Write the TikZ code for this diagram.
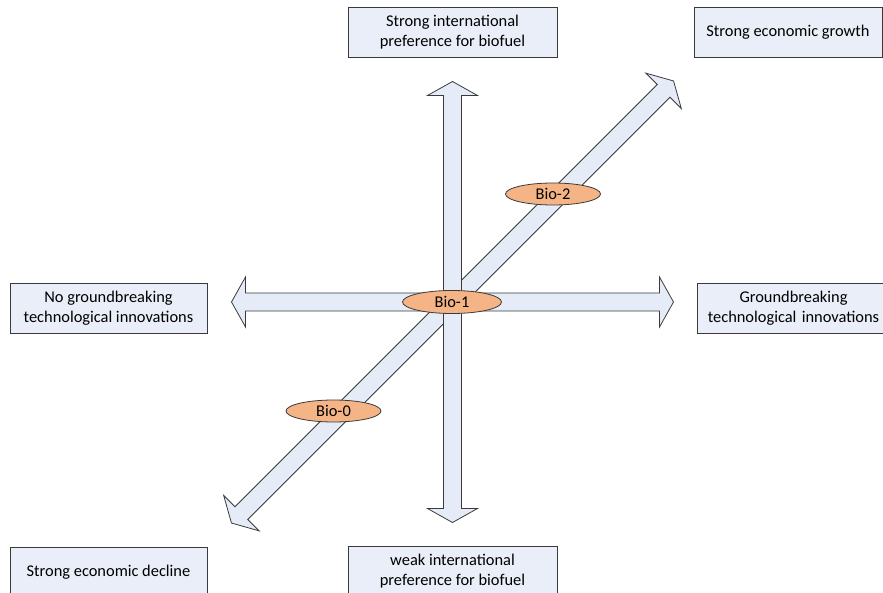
\documentclass[tikz,border=0pt]{standalone}
\usepackage{fontspec}
\setmainfont{Carlito}
\usetikzlibrary{shapes.geometric}
\definecolor{boxfill}{HTML}{E9EEF8}
\definecolor{arrowfill}{HTML}{E6ECF7}
\definecolor{biofill}{HTML}{F5B485}
\definecolor{edge}{HTML}{3A3A3A}
% double-headed block arrow along the x axis, tip to tip 2*#1
\newcommand\blockarrow[1]{%
  (-#1,0) -- (-#1+14,25) -- (-#1+14,9) -- (#1-14,9) -- (#1-14,25) -- (#1,0)
  -- (#1-14,-25) -- (#1-14,-9) -- (-#1+14,-9) -- (-#1+14,-25) -- cycle}
\begin{document}
\begin{tikzpicture}[x=1pt,y=-1pt,
  font=\fontsize{16.4}{19.5}\selectfont,
  labelbox/.style={draw=edge, line width=0.8pt, fill=boxfill, align=center,
    inner sep=0pt, minimum height=50pt},
  axisarrow/.style={draw=edge, line width=0.8pt, fill=arrowfill, line join=miter},
  bio/.style={ellipse, draw=edge, line width=0.8pt, fill=biofill, inner sep=0pt}]
\useasboundingbox (0,0) rectangle (883,593);

% scenario axes
\begin{scope}[shift={(452.5,302)}, rotate=45]
  \path[axisarrow] \blockarrow{312.6};
\end{scope}
\begin{scope}[shift={(452.5,302)}]
  \path[axisarrow] \blockarrow{221};
\end{scope}
\begin{scope}[shift={(452.5,302)}, rotate=90]
  \path[axisarrow] \blockarrow{220.5};
\end{scope}

% axis end labels
\node[labelbox, minimum width=209pt] (top) at (452.5,32)
  {Strong international\\preference for biofuel};
\node[labelbox, minimum width=188pt] (growth) at (788,32)
  {Strong economic growth};
\node[labelbox, minimum width=197pt] (notech) at (108.5,308)
  {No groundbreaking\\technological innovations};
\node[labelbox, minimum width=193pt, text width=186pt] (tech) at (793.5,308)
  {Groundbreaking\\technological innovations};
\node[labelbox, minimum width=197pt] (decline) at (108.5,572)
  {Strong economic decline};
\node[labelbox, minimum width=209pt] (weak) at (452.5,571)
  {weak international\\preference for biofuel};

% scenarios
\node[bio, minimum width=95pt, minimum height=22pt] (bio2) at (553,194) {Bio-2};
\node[bio, minimum width=99pt, minimum height=23pt] (bio1) at (452,302) {Bio-1};
\node[bio, minimum width=95pt, minimum height=22pt] (bio0) at (333.5,411) {Bio-0};
\end{tikzpicture}
\end{document}
